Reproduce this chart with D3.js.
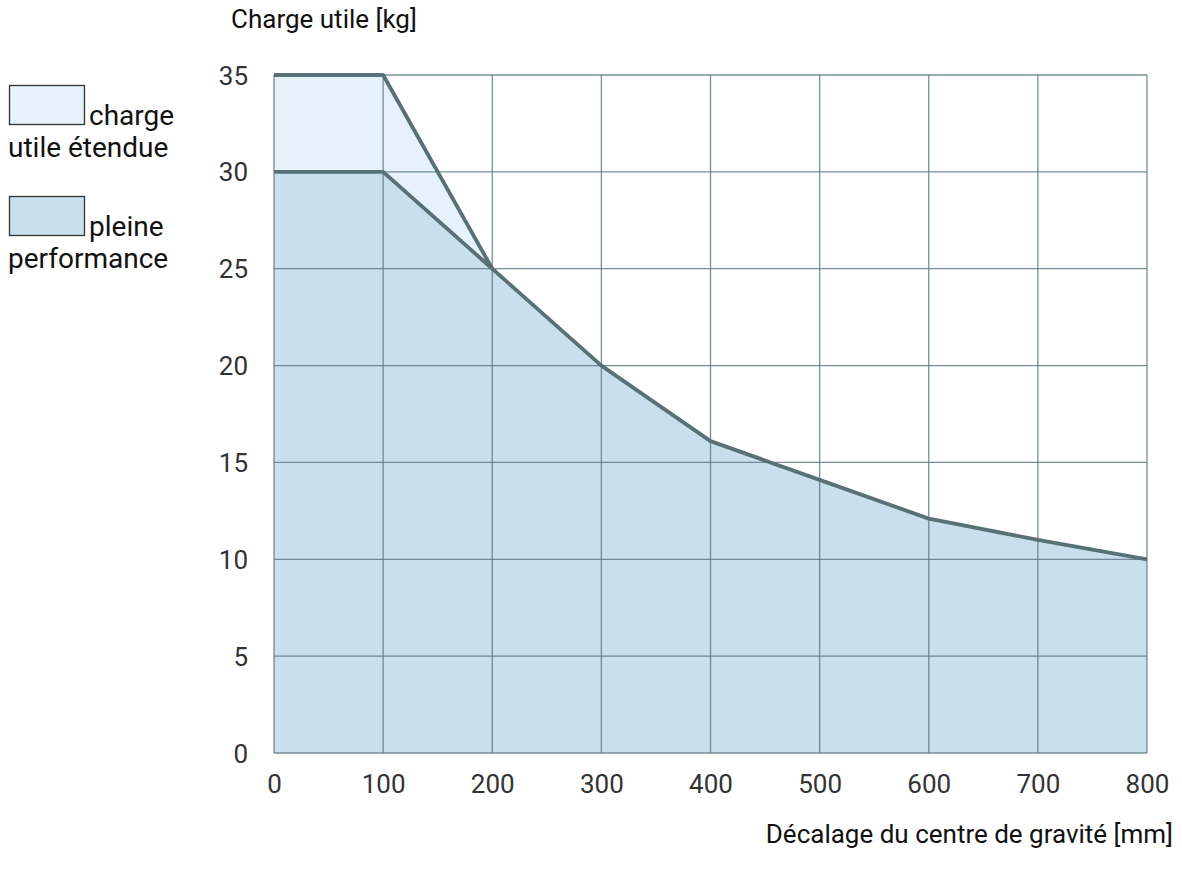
<!DOCTYPE html>
<html><head><meta charset="utf-8">
<script src="https://cdn.jsdelivr.net/npm/d3@7"></script>
<style>body{margin:0;background:#fff;} text{font-family:Roboto, "Noto Sans", sans-serif;}</style>
</head><body>
<svg id="c" width="1182" height="877"></svg>
<script>
const offsets = [0, 100, 200, 300, 400, 500, 600, 700, 800];
const fullPerf = [30, 30, 25, 20, 16.1, 14.1, 12.1, 11, 10];
const extOffsets = [0, 100, 200];
const extPayload = [35, 35, 25];
const xTicks = [0, 100, 200, 300, 400, 500, 600, 700, 800];
const yTicks = [0, 5, 10, 15, 20, 25, 30, 35];
const legendLabels = [["charge", "utile étendue"], ["pleine", "performance"]];
const legendColors = ["#e6f2f9", "#c8e0ed"];

const svg = d3.select("#c");
const x = d3.scaleLinear().domain([0, 800]).range([274, 1147]);
const y = d3.scaleLinear().domain([0, 35]).range([753, 75]);
const gridColor = "#5f7a82", lineColor = "#587176";

// fills
const area = d3.area().x(d => x(d[0])).y0(y(0)).y1(d => y(d[1]));
const extData = extOffsets.map((o, i) => [o, extPayload[i]]).concat(offsets.slice(3).map((o,i)=>[o, fullPerf[i+3]]));
svg.append("path").attr("d", area(extData)).attr("fill", legendColors[0]);
const fullData = offsets.map((o, i) => [o, fullPerf[i]]);
svg.append("path").attr("d", area(fullData)).attr("fill", legendColors[1]);

// grid
svg.append("g").selectAll("line").data(xTicks).join("line")
  .attr("x1", d => x(d)).attr("x2", d => x(d)).attr("y1", y(35)).attr("y2", y(0))
  .attr("stroke", gridColor).attr("stroke-width", 1.3).attr("stroke-opacity", 0.85);
svg.append("g").selectAll("line").data(yTicks).join("line")
  .attr("x1", x(0)).attr("x2", x(800)).attr("y1", d => y(d)).attr("y2", d => y(d))
  .attr("stroke", gridColor).attr("stroke-width", 1.3).attr("stroke-opacity", 0.85);

// lines
const line = d3.line().x(d => x(d[0])).y(d => y(d[1]));
svg.append("path").attr("d", line(extOffsets.map((o,i)=>[o, extPayload[i]])))
  .attr("fill", "none").attr("stroke", lineColor).attr("stroke-width", 3.8).attr("stroke-linejoin","round");
svg.append("path").attr("d", line(fullData))
  .attr("fill", "none").attr("stroke", lineColor).attr("stroke-width", 3.8).attr("stroke-linejoin","round");

// axes labels
const xAxis = d3.axisBottom(x).tickValues(xTicks).tickSize(0).tickPadding(0);
const gx = svg.append("g").attr("transform", `translate(0,${y(0)})`).call(xAxis);
gx.select(".domain").remove();
gx.selectAll("text").attr("font-size", 26).attr("fill", "#333").attr("dy", null).attr("y", 40)
  .attr("font-family", "Roboto");
const yAxis = d3.axisLeft(y).tickValues(yTicks).tickSize(0).tickPadding(0);
const gy = svg.append("g").attr("transform", `translate(248,0)`).call(yAxis);
gy.select(".domain").remove();
gy.selectAll("text").attr("font-size", 26).attr("fill", "#333").attr("dy", "0.35em").attr("x", 0)
  .attr("font-family", "Roboto");

svg.append("text").attr("x", 231).attr("y", 28).attr("font-size", 26).attr("fill", "#111").text("Charge utile [kg]");
svg.append("text").attr("x", 1173).attr("y", 843).attr("text-anchor", "end").attr("font-size", 26).attr("fill", "#111").text("Décalage du centre de gravité [mm]");

// legend
legendLabels.forEach((lab, i) => {
  const top = 85 + i * 111;
  svg.append("rect").attr("x", 9.5).attr("y", top + 0.5).attr("width", 75).attr("height", 39)
    .attr("fill", legendColors[i]).attr("stroke", "#333").attr("stroke-width", 1.3);
  svg.append("text").attr("x", 89).attr("y", top + 40).attr("font-size", 28).attr("fill", "#111").text(lab[0]);
  svg.append("text").attr("x", 8).attr("y", top + 72).attr("font-size", 28).attr("fill", "#111").text(lab[1]);
});
</script>
</body></html>
